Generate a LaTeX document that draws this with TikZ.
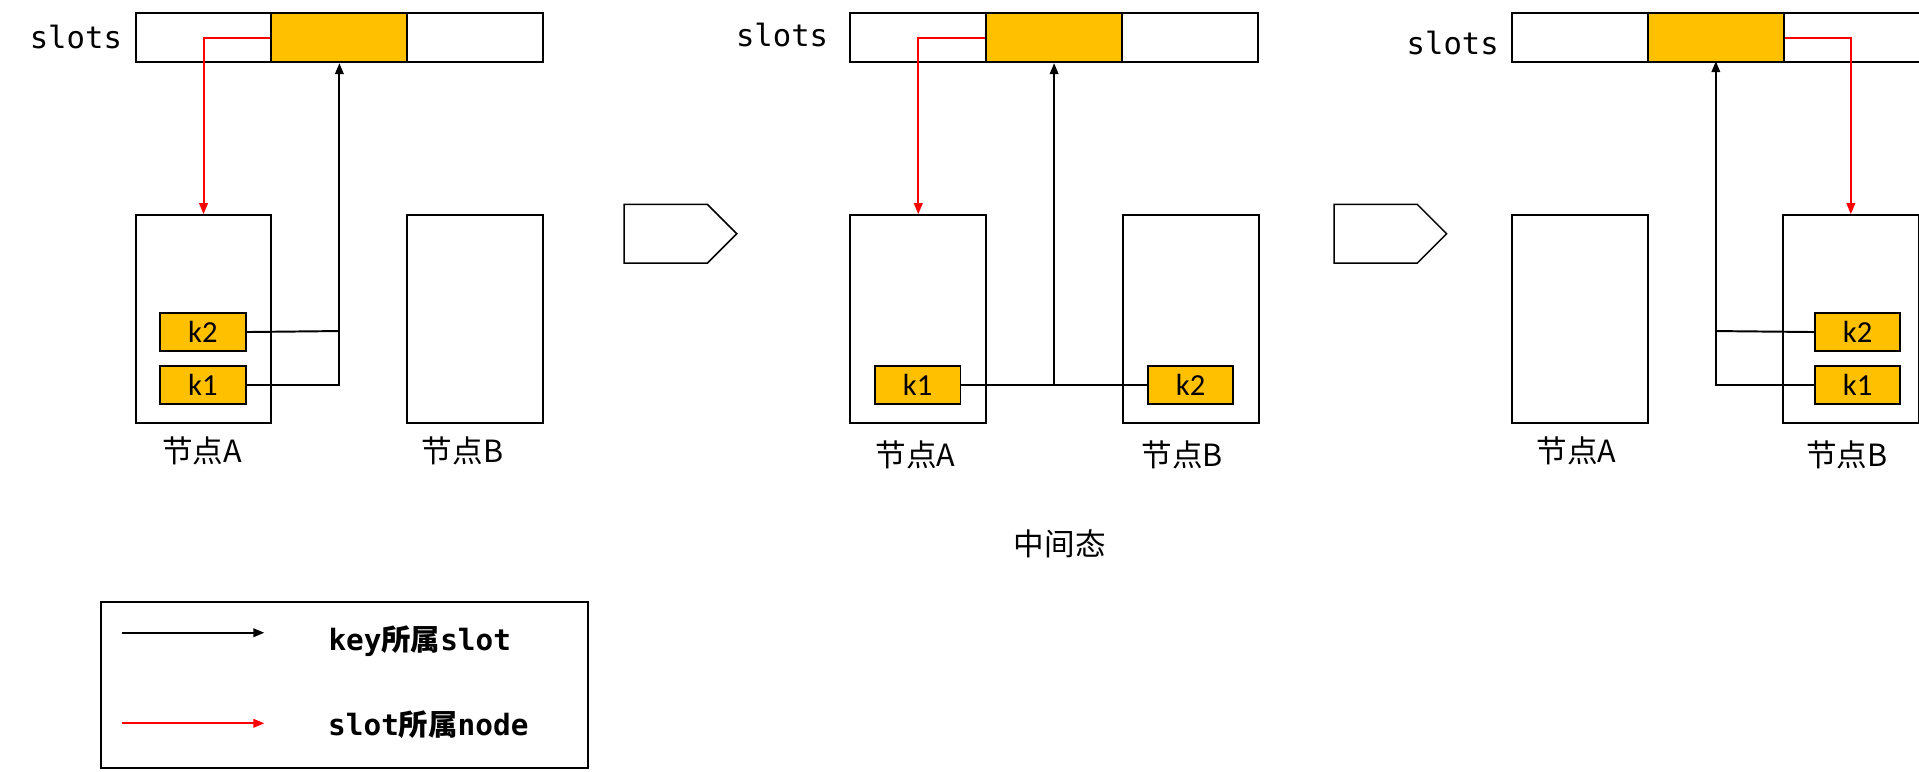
\documentclass[tikz,border=0pt]{standalone}
\usepackage{fontspec}
\setmainfont{Carlito}
\newfontfamily\cjk{Noto Sans CJK SC}
\newfontfamily\mono{DejaVu Sans Mono}
\usetikzlibrary{arrows.meta,shapes.arrows}
\definecolor{og}{HTML}{FFC000}
\begin{document}
\begin{tikzpicture}[x=1pt,y=-1pt,line width=1.6pt,
  cell/.style={draw,minimum width=111pt,minimum height=40pt,inner sep=0,anchor=north west},
  nodebox/.style={draw,minimum width=111pt,minimum height=170pt,inner sep=0,anchor=north west},
  keybox/.style={draw,fill=og,minimum width=70pt,minimum height=31pt,inner sep=0,anchor=north west,font=\fontsize{25}{25}\selectfont},
  lbl/.style={font=\cjk\fontsize{25}{25}\selectfont},
  sl/.style={font=\mono\fontsize{25}{25}\selectfont},
  blk/.style={-{Triangle[length=9pt,width=7pt]}},
  rd/.style={red,-{Triangle[length=9pt,width=7pt]}},
  bigarrow/.style={draw,single arrow,minimum height=92pt,minimum width=48pt,single arrow head extend=0pt,single arrow tip angle=90,inner sep=0,line width=1.2pt,shape border uses incircle=false}
]
\useasboundingbox (0,0) rectangle (1568,630);
% panel 1
\node[sl] (s1) at (62,30) {slots};
\node[cell] (a1) at (110,10) {};
\node[cell,fill=og] (b1) at (221,10) {};
\node[cell] (c1) at (332,10) {};
\node[nodebox] (na1) at (110,175) {};
\node[nodebox] (nb1) at (332,175) {};
\node[keybox] (k21) at (130,255) {k2};
\node[keybox] (k11) at (130,298) {k1};
\node[lbl] (la1) at (165,368) {节点A};
\node[lbl] (lb1) at (378,368) {节点B};
\draw[rd] (b1.west) -| (na1.north);
\coordinate (j1) at (276,314);
\draw (k21.east) -- (276,270.5);
\draw[blk] (k11.east) -| (b1.south);
% arrow
\node[bigarrow] (ar1) at (544,191) {};
% panel 2
\node[sl] (s2) at (639,29) {slots};
\node[cell] (a2) at (694,10) {};
\node[cell,fill=og] (b2) at (805,10) {};
\node[cell] (c2) at (916,10) {};
\node[nodebox] (na2) at (694,175) {};
\node[nodebox] (nb2) at (917,175) {};
\node[keybox] (k12) at (714,298) {k1};
\node[keybox] (k22) at (937,298) {k2};
\node[lbl] (la2) at (748,372) {节点A};
\node[lbl] (lb2) at (966,372) {节点B};
\draw[rd] (b2.west) -| (na2.north);
\draw (k12.east) -- (k22.west);
\draw[blk] (b2.south |- k12.east) -- (b2.south);
\node[lbl] (mid) at (866,444) {中间态};
\node[bigarrow] (ar2) at (1124,191) {};
% panel 3
\node[sl] (s3) at (1187,35) {slots};
\node[cell] (a3) at (1235,10) {};
\node[cell,fill=og] (b3) at (1346,10) {};
\node[cell] (c3) at (1457,10) {};
\node[nodebox] (na3) at (1235,175) {};
\node[nodebox] (nb3) at (1456,175) {};
\node[keybox] (k23) at (1482,255) {k2};
\node[keybox] (k13) at (1482,298) {k1};
\node[lbl] (la3) at (1288,368) {节点A};
\node[lbl] (lb3) at (1509,372) {节点B};
\draw[rd] (b3.east) -| (nb3.north);
\draw (k23.west) -- (1402,270.5);
\draw[blk] (k13.west) -| (1402,50);
% legend
\node[draw,minimum width=398pt,minimum height=136pt,anchor=north west,inner sep=0] (leg) at (82,491) {};
\coordinate (l1a) at (100,517); \coordinate (l1b) at (216,517);
\coordinate (l2a) at (100,591); \coordinate (l2b) at (216,591);
\draw[blk] (l1a) -- (l1b);
\draw[rd] (l2a) -- (l2b);
\node[font=\bfseries\fontsize{24}{24}\selectfont] (t1) at (343,524) {{\mono key}{\cjk 所属}{\mono slot}};
\node[font=\bfseries\fontsize{24}{24}\selectfont] (t2) at (350,592) {{\mono slot}{\cjk 所属}{\mono node}};
\end{tikzpicture}
\end{document}
